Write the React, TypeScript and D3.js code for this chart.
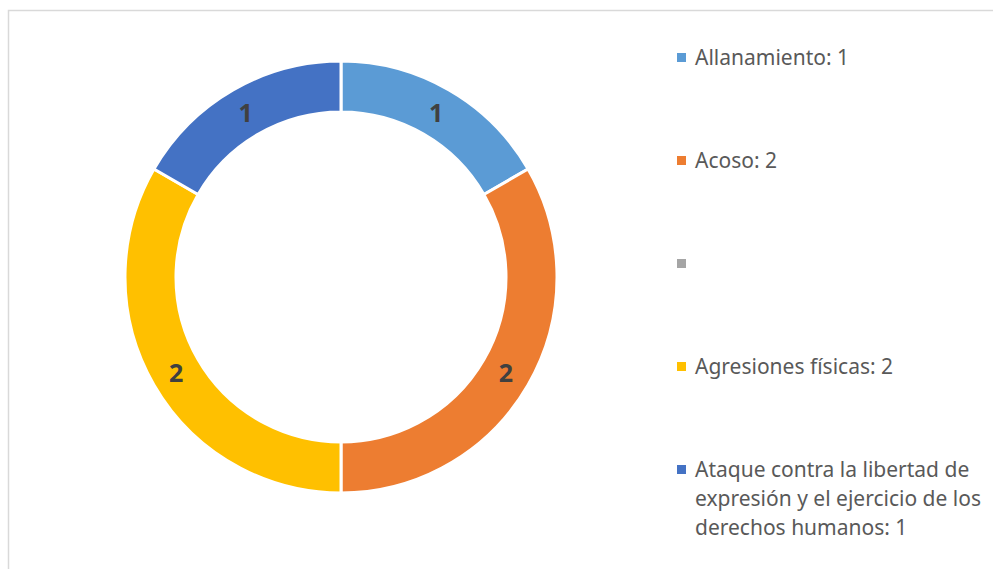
import React, { useEffect, useRef } from "react";
import * as d3 from "d3";

// categories and values
const categories = [
  "Allanamiento",
  "Acoso",
  "",
  "Agresiones físicas",
  "Ataque contra la libertad de expresión y el ejercicio de los derechos humanos",
];
const values = [1, 2, 0, 2, 1];
const colors = ["#5B9BD5", "#ED7D31", "#A5A5A5", "#FFC000", "#4472C4"];
// how the long legend entry wraps
const legendLines = [
  ["Allanamiento: 1"],
  ["Acoso: 2"],
  [""],
  ["Agresiones físicas: 2"],
  ["Ataque contra la libertad de", "expresión y el ejercicio de los", "derechos humanos: 1"],
];

const App = () => {
  const svgRef = useRef<SVGSVGElement>(null);

  useEffect(() => {
    const width = 993;
    const height = 569;
    const cx = 341;
    const cy = 277;
    const outerR = 216;
    const innerR = 165;

    const svg = d3.select(svgRef.current);
    svg.selectAll("*").remove();
    svg.attr("width", width).attr("height", height);

    svg.append("rect")
      .attr("width", width).attr("height", height).attr("fill", "#fff");

    // chart area border (runs off the right and bottom edges)
    svg.append("rect")
      .attr("x", 8.5).attr("y", 10.5)
      .attr("width", width + 20).attr("height", height + 20)
      .attr("fill", "none")
      .attr("stroke", "#D9D9D9")
      .attr("stroke-width", 1.5);

    const data = categories.map((c, i) => ({ name: c, value: values[i], color: colors[i] }));

    const pie = d3.pie<any>().sort(null).value((d) => d.value);
    const arc = d3.arc<any>().innerRadius(innerR).outerRadius(outerR);
    const arcs = pie(data).filter((d) => d.data.value > 0);

    const g = svg.append("g").attr("transform", `translate(${cx},${cy})`);

    g.selectAll("path")
      .data(arcs)
      .join("path")
      .attr("d", arc)
      .attr("fill", (d) => d.data.color)
      .attr("stroke", "#fff")
      .attr("stroke-width", 3)
      .attr("stroke-linejoin", "miter");

    g.selectAll("text.lbl")
      .data(arcs)
      .join("text")
      .attr("class", "lbl")
      .attr("x", (d) => arc.centroid(d)[0])
      .attr("y", (d) => arc.centroid(d)[1])
      .attr("text-anchor", "middle")
      .attr("dominant-baseline", "central")
      .attr("font-family", "'Noto Sans', sans-serif")
      .attr("font-weight", "bold")
      .attr("font-size", 25)
      .attr("fill", "#404040")
      .text((d) => d.data.value);

    // legend
    const legend = svg.append("g").attr("transform", "translate(677,0)");
    const step = 103;
    data.forEach((d, i) => {
      const yc = 57.5 + i * step;
      legend.append("rect")
        .attr("x", 0).attr("y", yc - 4.5)
        .attr("width", 9).attr("height", 9)
        .attr("fill", d.color);
      const t = legend.append("text")
        .attr("x", 18)
        .attr("y", yc + 7.5)
        .attr("font-family", "'Noto Sans', sans-serif")
        .attr("font-size", 21)
        .attr("fill", "#595959");
      legendLines[i].forEach((line, j) => {
        t.append("tspan").attr("x", 18).attr("dy", j === 0 ? 0 : 29).text(line);
      });
    });
  }, []);

  return (
    <div style={{ position: "absolute", left: 0, top: 0 }}>
      <svg ref={svgRef} style={{ display: "block" }}></svg>
    </div>
  );
};

export default App;
